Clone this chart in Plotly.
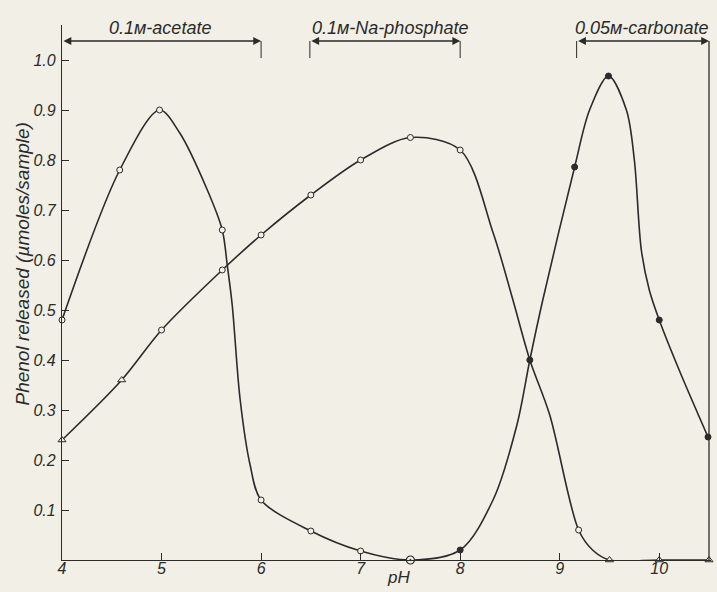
import plotly.graph_objects as go

# ---- data ----
# Curve A (acetate peak + carbonate peak): traced path
curveA_path_ph = [4.0, 4.58, 4.98, 5.18, 5.46, 5.61, 5.66, 5.71, 5.79, 5.89, 6.0, 6.5, 7.0, 7.5, 8.0,
                  8.33, 8.57, 8.7, 8.83, 9.15, 9.3, 9.49, 9.67, 9.75, 9.82, 9.9, 10.0, 10.2, 10.49]
curveA_path_val = [0.48, 0.78, 0.90, 0.855, 0.74, 0.66, 0.59, 0.51, 0.32, 0.19, 0.12, 0.058, 0.018, 0.0, 0.02,
                   0.12, 0.27, 0.40, 0.52, 0.786, 0.90, 0.968, 0.90, 0.80, 0.62, 0.54, 0.48, 0.38, 0.246]
# Curve A measured points
curveA_open_ph = [4.0, 4.58, 4.98, 5.61, 6.0, 6.5, 7.0]
curveA_open_val = [0.48, 0.78, 0.90, 0.66, 0.12, 0.058, 0.018]
curveA_dot_ph = [7.5]
curveA_dot_val = [0.0]
curveA_filled_ph = [8.0, 8.7, 9.15, 9.49, 10.0, 10.49]
curveA_filled_val = [0.02, 0.40, 0.786, 0.968, 0.48, 0.246]

# Curve B (phosphate plateau): traced path
curveB_path_ph = [4.0, 4.6, 5.0, 5.61, 6.0, 6.5, 7.0, 7.5, 8.0, 8.33, 8.53, 8.7, 8.9, 9.19, 9.33, 9.5, 10.0, 10.5]
curveB_path_val = [0.24, 0.36, 0.46, 0.58, 0.65, 0.73, 0.80, 0.845, 0.82, 0.655, 0.52, 0.40, 0.29, 0.06, 0.02, 0.0, 0.0, 0.0]
# Curve B measured points
curveB_tri_ph = [4.0, 4.6, 9.5, 10.0, 10.5]
curveB_tri_val = [0.24, 0.36, 0.0, 0.0, 0.0]
curveB_open_ph = [5.0, 5.61, 6.0, 6.5, 7.0, 7.5, 8.0, 9.19]
curveB_open_val = [0.46, 0.58, 0.65, 0.73, 0.80, 0.845, 0.82, 0.06]

# Buffer ranges (pH)
buffer_labels = ["0.1м-acetate", "0.1м-Na-phosphate", "0.05м-carbonate"]
buffer_start = [4.0, 6.49, 9.17]
buffer_end = [6.0, 8.0, 10.5]
buffer_label_x = [4.98, 7.3, 9.82]

x_ticks = [4, 5, 6, 7, 8, 9, 10]
y_ticks = [0.1, 0.2, 0.3, 0.4, 0.5, 0.6, 0.7, 0.8, 0.9, 1.0]
y_ticktext = ["0.1", "0.2", "0.3", "0.4", "0.5", "0.6", "0.7", "0.8", "0.9", "1.0"]

# ---- style ----
PAPER = "#f1efe6"
INK = "#2b2b2b"
FONT = "Liberation Sans Narrow, Liberation Sans, DejaVu Sans"

fig = go.Figure()
line_style = dict(color=INK, width=1.6, shape="spline", smoothing=0.9)
fig.add_trace(go.Scatter(x=curveA_path_ph, y=curveA_path_val, mode="lines", line=line_style,
                         hoverinfo="skip", cliponaxis=False))
fig.add_trace(go.Scatter(x=curveB_path_ph, y=curveB_path_val, mode="lines", line=line_style,
                         hoverinfo="skip", cliponaxis=False))

open_marker = dict(symbol="circle", size=6, color=PAPER, line=dict(color=INK, width=1))
fig.add_trace(go.Scatter(x=curveA_open_ph, y=curveA_open_val, mode="markers", marker=open_marker, cliponaxis=False))
fig.add_trace(go.Scatter(x=curveB_open_ph, y=curveB_open_val, mode="markers", marker=open_marker, cliponaxis=False))
fig.add_trace(go.Scatter(x=curveA_dot_ph, y=curveA_dot_val, mode="markers",
                         marker=dict(symbol="circle-dot", size=8, color=PAPER, line=dict(color=INK, width=1.2)),
                         cliponaxis=False))
fig.add_trace(go.Scatter(x=curveA_filled_ph, y=curveA_filled_val, mode="markers",
                         marker=dict(symbol="circle", size=6, color=INK, line=dict(color=INK, width=1)),
                         cliponaxis=False))
fig.add_trace(go.Scatter(x=curveB_tri_ph, y=curveB_tri_val, mode="markers",
                         marker=dict(symbol="triangle-up", size=7, color=PAPER, line=dict(color=INK, width=1)),
                         cliponaxis=False))

BAR_Y = 1.038
TICK_BOTTOM = 1.004
shapes = []
annotations = []
for lab, s, e, lx in zip(buffer_labels, buffer_start, buffer_end, buffer_label_x):
    annotations.append(dict(x=e, y=BAR_Y, ax=s, ay=BAR_Y, xref="x", yref="y", axref="x", ayref="y",
                            text="", showarrow=True, arrowhead=2, arrowsize=1.2, arrowwidth=1.3,
                            arrowcolor=INK, arrowside="end+start", standoff=0, startstandoff=0))
    annotations.append(dict(x=lx, y=BAR_Y, xref="x", yref="y", text=lab, showarrow=False,
                            yanchor="bottom", yshift=1,
                            font=dict(family=FONT, size=18, color=INK, style="italic")))
    for xv in (s, e):
        if xv not in (4.0, 10.5):
            shapes.append(dict(type="line", xref="x", yref="y", x0=xv, x1=xv, y0=TICK_BOTTOM, y1=BAR_Y,
                               line=dict(color=INK, width=1)))
# right border line
shapes.append(dict(type="line", xref="x", yref="y", x0=10.5, x1=10.5, y0=0, y1=BAR_Y,
                   line=dict(color=INK, width=1.3)))

annotations.append(dict(x=7.38, y=0, xref="x", yref="paper", text="pH", showarrow=False,
                        yanchor="top", yshift=-6, font=dict(family=FONT, size=17, color=INK, style="italic")))
annotations.append(dict(x=0, y=0.5, xref="paper", yref="paper", text="Phenol released (µmoles/sample)",
                        showarrow=False, textangle=-90, xanchor="center", xshift=-40, yshift=28,
                        font=dict(family=FONT, size=19, color=INK, style="italic")))

fig.update_layout(
    width=717, height=592,
    margin=dict(l=62, r=6, t=25, b=32),
    paper_bgcolor=PAPER, plot_bgcolor=PAPER,
    showlegend=False,
    shapes=shapes, annotations=annotations,
    xaxis=dict(range=[4, 10.52], tickvals=x_ticks, ticks="inside", ticklen=7, tickcolor=INK,
               showline=True, linecolor=INK, linewidth=1.3, showgrid=False, zeroline=False,
               ticklabelstandoff=-6,
               tickfont=dict(family=FONT, size=16, color=INK, style="italic")),
    yaxis=dict(range=[0, 1.07], tickvals=y_ticks, ticktext=y_ticktext, ticks="inside", ticklen=7,
               tickcolor=INK, showline=True, linecolor=INK, linewidth=1.3, showgrid=False, zeroline=False,
               ticklabelstandoff=2,
               tickfont=dict(family=FONT, size=16, color=INK, style="italic")),
)

fig.write_html(
    "out.html",
    config={"displayModeBar": False},
    post_script="document.body.style.margin='0';document.body.style.overflow='hidden';"
                "document.body.style.background='" + PAPER + "';",
)
